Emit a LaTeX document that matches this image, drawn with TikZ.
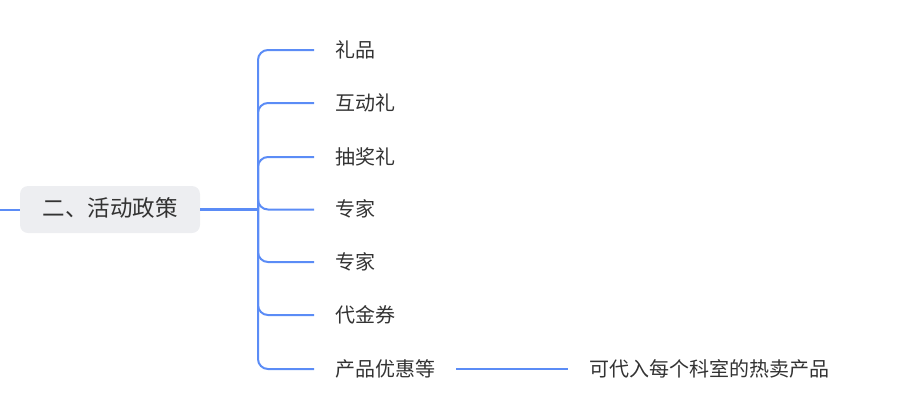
\documentclass[tikz,border=0pt]{standalone}
\usepackage{fontspec}
\setmainfont{Noto Sans CJK SC}
\usepackage{tikz}
\usetikzlibrary{positioning, calc}

\definecolor{linkblue}{HTML}{5B8CF6}
\definecolor{rootgray}{HTML}{EDEEF1}
\definecolor{textgray}{HTML}{333333}

\tikzset{
    link/.style={draw=linkblue, line width=2pt, rounded corners=10pt},
    rootlink/.style={draw=linkblue, line width=3pt},
    topic/.style={text=textgray, font=\fontsize{20}{21}\selectfont, anchor=west,
        inner xsep=21pt, inner ysep=0pt, text height=1.4em, text depth=0em},
    roottopic/.style={fill=rootgray, rounded corners=8pt, text=textgray,
        font=\fontsize{22.5}{23}\selectfont, minimum width=180pt, minimum height=47pt,
        inner sep=0pt, text height=1.38em, text depth=0em}
}

\begin{document}
\begin{tikzpicture}[x=1pt, y=-1pt]
    \useasboundingbox (0,0) rectangle (921,410);
    \coordinate (in) at (0,209.5);
    \coordinate (hub) at (258,209.5);
    \node[roottopic] (root) at (110,209.5) {二、活动政策};
    % children
    \node[topic] (gift) at (314,50) {礼品};
    \node[topic] (interact) at (314,103) {互动礼};
    \node[topic] (lottery) at (314,157) {抽奖礼};
    \node[topic] (expertA) at (314,209.5) {专家};
    \node[topic] (expertB) at (314,262) {专家};
    \node[topic] (voucher) at (314,315) {代金券};
    \node[topic] (offer) at (314,369) {产品优惠等};
    \node[topic] (hot) at (568,369) {可代入每个科室的热卖产品};
    % connectors
    \draw[link] (in) -- (root.west);
    \draw[rootlink] (root.east) -- (hub);
    \foreach \c in {gift, interact, lottery, expertA, expertB, voucher, offer}
        \draw[link] (hub) |- (\c.west);
    \draw[link] (offer.east) -- (hot.west);
\end{tikzpicture}
\end{document}
